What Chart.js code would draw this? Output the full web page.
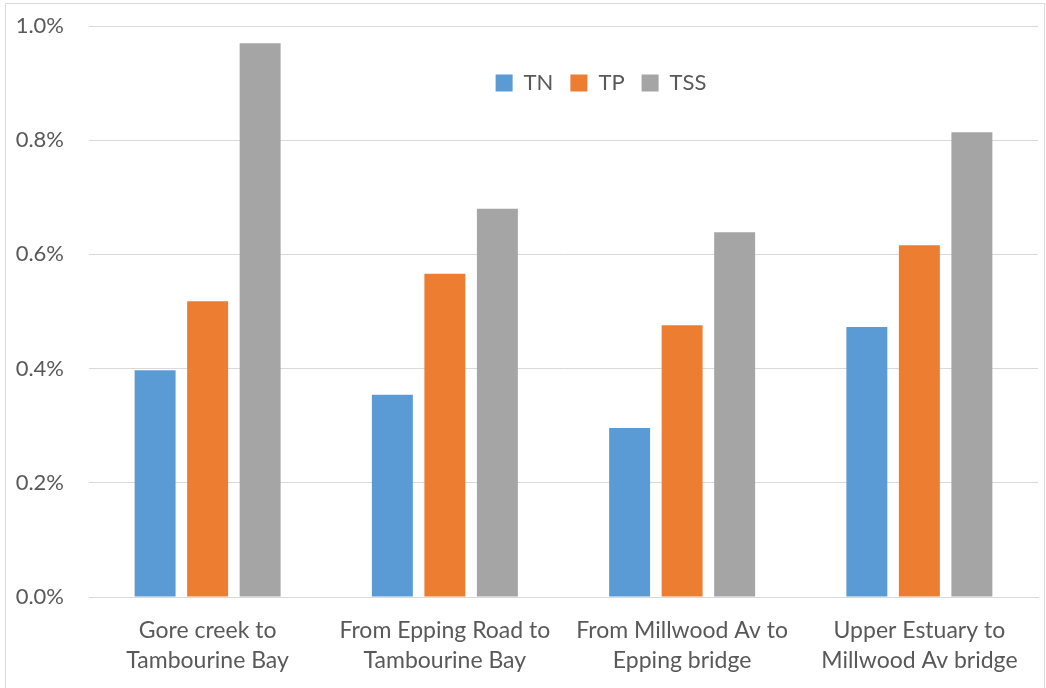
<!DOCTYPE html>
<html>
<head>
<meta charset="utf-8">
<script src="https://cdn.jsdelivr.net/npm/chart.js@4.4.0/dist/chart.umd.min.js"></script>
<style>
  html, body { margin: 0; padding: 0; background: #fff; overflow: hidden; }
  #frame { position: absolute; left: 5px; top: 3px; width: 1038px; height: 700px; border: 1px solid #d9d9d9; }
  #wrap { position: absolute; left: 0; top: 0; width: 1046px; height: 688px; }
</style>
</head>
<body>
<div id="frame"></div>
<div id="wrap"><canvas id="grafica" width="1046" height="688"></canvas></div>
<script>
// tramos del estuario
const categorias = [
    ["Gore creek to", "Tambourine Bay"],
    ["From Epping Road to", "Tambourine Bay"],
    ["From Millwood Av to", "Epping bridge"],
    ["Upper Estuary to", "Millwood Av bridge"]
];
// valores en %
const valoresTN = [0.397, 0.354, 0.296, 0.473];
const valoresTP = [0.518, 0.566, 0.476, 0.616];
const valoresTSS = [0.970, 0.680, 0.639, 0.814];
const ticksY = [0.0, 0.2, 0.4, 0.6, 0.8, 1.0];

const fuente = "Lato, 'Open Sans', sans-serif";
const gris = "#595959";

// la leyenda no ocupa sitio y se dibuja dentro del area del grafico
const moverLeyenda = {
    id: "moverLeyenda",
    beforeLayout(chart) {
        const l = chart.legend;
        if (l && !l._sinAlto) {
            const fitOriginal = l.fit.bind(l);
            l.fit = function () { fitOriginal(); this._altoReal = this.height; this.height = 0; };
            l._sinAlto = true;
        }
    },
    afterLayout(chart) {
        const l = chart.legend;
        const top = 55, centro = 601;
        const dx = centro - (l.left + l.right) / 2;
        l.left += dx; l.right += dx;
        l.top = top; l.bottom = top + l._altoReal;
    }
};

const ctx = document.getElementById("grafica").getContext("2d");
const myChart = new Chart(ctx, {
    type: "bar",
    data: {
        labels: categorias,
        datasets: [
            { label: "TN", data: valoresTN, backgroundColor: "#5b9bd5" },
            { label: "TP", data: valoresTP, backgroundColor: "#ed7d31" },
            { label: "TSS", data: valoresTSS, backgroundColor: "#a5a5a5" }
        ]
    },
    options: {
        responsive: false,
        animation: false,
        devicePixelRatio: 1,
        layout: { padding: { left: 0, right: 8, top: 26, bottom: 0 } },
        datasets: { bar: { categoryPercentage: 0.664, barPercentage: 0.78 } },
        plugins: {
            legend: {
                position: "top",
                labels: {
                    boxWidth: 17,
                    boxHeight: 17,
                    padding: 17,
                    color: gris,
                    font: { family: fuente, size: 22 }
                }
            },
            tooltip: { enabled: false }
        },
        scales: {
            x: {
                grid: { display: false, drawTicks: false },
                border: { color: "#d9d9d9", width: 1 },
                ticks: { color: gris, padding: 19, font: { family: fuente, size: 23, lineHeight: 1.3 } },
                afterFit(axis) { axis.height = 91; }
            },
            y: {
                min: 0,
                max: 1.0,
                afterBuildTicks(axis) { axis.ticks = ticksY.map(v => ({ value: v })); },
                // marcas invisibles para separar las etiquetas sin sumar margen arriba
                grid: { color: "#d9d9d9", drawTicks: true, tickLength: 25, tickColor: "rgba(0,0,0,0)" },
                border: { display: false },
                ticks: {
                    color: gris,
                    padding: 0,
                    font: { family: fuente, size: 22 },
                    callback: v => v.toFixed(1) + "%"
                },
                afterFit(axis) { axis.width = 89; }
            }
        }
    },
    plugins: [moverLeyenda]
});
</script>
</body>
</html>
